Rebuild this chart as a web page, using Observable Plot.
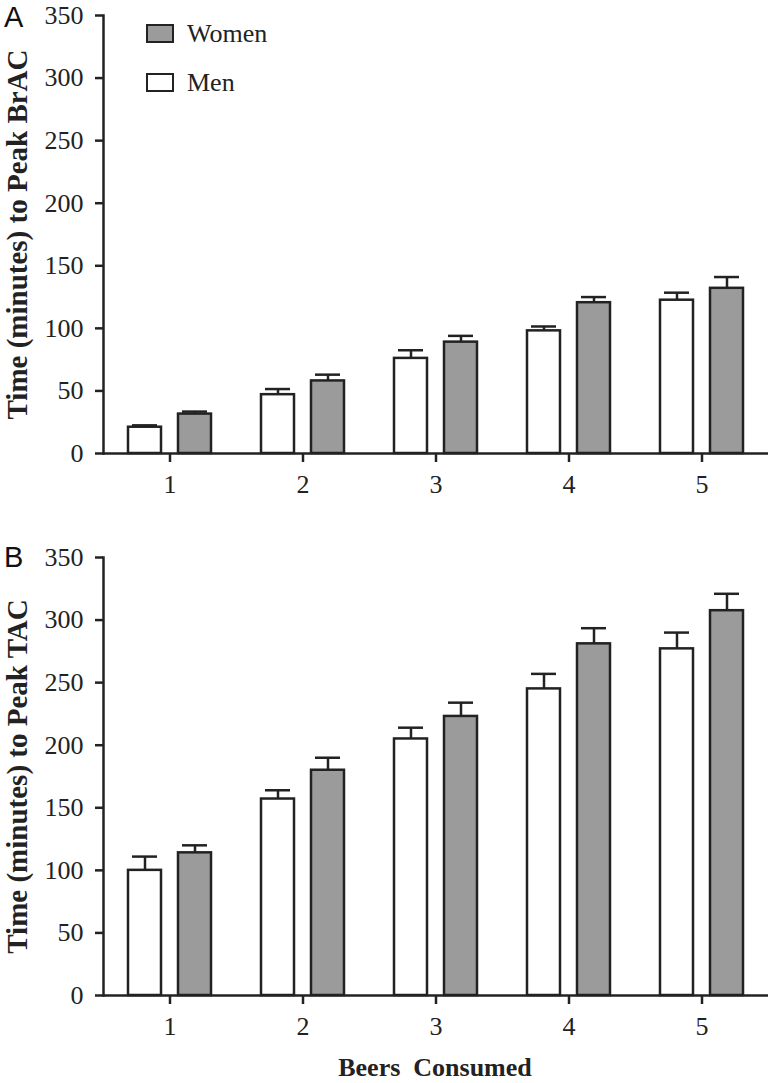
<!DOCTYPE html>
<html>
<head>
<meta charset="utf-8">
<script src="https://cdn.jsdelivr.net/npm/d3@7"></script>
<script src="https://cdn.jsdelivr.net/npm/@observablehq/plot@0.6"></script>
<style>
  body { margin: 0; background: #fff; }
  #root { position: relative; width: 768px; height: 1083px; overflow: hidden; font-family: "Liberation Serif", serif; color: #222; }
  #root svg text { font-family: "Liberation Serif", serif; }
  .panel { position: absolute; left: 0; }
  .letter { position: absolute; font-family: "Liberation Sans", Arial, sans-serif; font-size: 29px; color: #111; line-height: 1; }
  .xtitle { position: absolute; font-weight: bold; font-size: 26px; white-space: pre; color: #222; transform: translateX(-50%); line-height: 1; }
  .sw { position: absolute; width: 24px; height: 15px; border: 2.5px solid #222; }
  .lt { position: absolute; font-size: 26px; line-height: 1; color: #222; }
  g[aria-label="y-axis label"] text { font-weight: bold; font-size: 29px; }
</style>
</head>
<body>
<div id="root"></div>
<script>
// ---- data ----
const beers = [1, 2, 3, 4, 5];
const sexes = ["Men", "Women"];
// Panel A: time to peak BrAC (minutes)
const brac_men = [21, 47, 76, 98, 122.5];
const brac_men_se = [1.5, 4.5, 6.5, 3.5, 6];
const brac_women = [31.5, 58, 89, 120.5, 132];
const brac_women_se = [2, 5, 5, 4.5, 9];
// Panel B: time to peak TAC (minutes)
const tac_men = [100, 157, 205, 245, 277];
const tac_men_se = [11, 7, 9, 12, 13];
const tac_women = [114, 180, 223, 281, 307.5];
const tac_women_se = [6, 10, 11, 12.5, 13.5];
const yTicks = [0, 50, 100, 150, 200, 250, 300, 350];

const colors = { Men: "#ffffff", Women: "#9b9b9b" };
const ink = "#222";

function rows(men, menSe, women, womenSe) {
  const out = [];
  beers.forEach((b, i) => {
    out.push({ beers: b, sex: "Men", value: men[i], se: menSe[i] });
    out.push({ beers: b, sex: "Women", value: women[i], se: womenSe[i] });
  });
  return out;
}

function panel(data, label) {
  return Plot.plot({
    width: 768,
    height: 503,
    marginTop: 15,
    marginBottom: 50,
    marginLeft: 103,
    marginRight: 0,
    style: { fontFamily: "Liberation Serif, serif", fontSize: "26px", color: ink, background: "transparent" },
    fx: { domain: beers, padding: 0 },
    x: { domain: sexes, paddingInner: 0.34, paddingOuter: 0.5, axis: null },
    y: { domain: [0, 350] },
    marks: [
      Plot.barY(data, { fx: "beers", x: "sex", y: "value", fill: d => colors[d.sex], stroke: ink, strokeWidth: 2.5 }),
      Plot.ruleX(data, { fx: "beers", x: "sex", y1: "value", y2: d => d.value + d.se, stroke: ink, strokeWidth: 2.5 }),
      Plot.tickY(data, { fx: "beers", x: "sex", y: d => d.value + d.se, stroke: ink, strokeWidth: 2.5, insetLeft: 4, insetRight: 4 }),
      Plot.ruleY([0], { stroke: ink, strokeWidth: 2.5 }),
      Plot.frame({ anchor: "left", facetAnchor: "left", stroke: ink, strokeWidth: 2.5 }),
      Plot.axisY({ ticks: yTicks, tickSize: 8, tickPadding: 12, strokeWidth: 2.5, fontSize: 26, label, labelAnchor: "center", labelArrow: "none", labelOffset: 97 }),
      Plot.axisFx({ anchor: "bottom", tickSize: 9, tickPadding: 12, strokeWidth: 2.5, fontSize: 26, label: null })
    ]
  });
}

const root = document.getElementById("root");

const pA = panel(rows(brac_men, brac_men_se, brac_women, brac_women_se), "Time (minutes) to Peak BrAC");
pA.classList.add("panel"); pA.style.top = "0px";
root.appendChild(pA);

const pB = panel(rows(tac_men, tac_men_se, tac_women, tac_women_se), "Time (minutes) to Peak TAC");
pB.classList.add("panel"); pB.style.top = "542px";
root.appendChild(pB);

function addDiv(cls, text, styles) {
  const d = document.createElement("div");
  d.className = cls;
  if (text) d.textContent = text;
  Object.assign(d.style, styles);
  root.appendChild(d);
  return d;
}
addDiv("letter", "A", { left: "4px", top: "3px" });
addDiv("letter", "B", { left: "4px", top: "543px" });
// legend
addDiv("sw", "", { left: "146px", top: "24px", background: colors.Women });
addDiv("lt", "Women", { left: "187px", top: "21px" });
addDiv("sw", "", { left: "146px", top: "73px", background: colors.Men });
addDiv("lt", "Men", { left: "187px", top: "70px" });
// x title
addDiv("xtitle", "Beers  Consumed", { left: "435px", top: "1055px" });
</script>
</body>
</html>
